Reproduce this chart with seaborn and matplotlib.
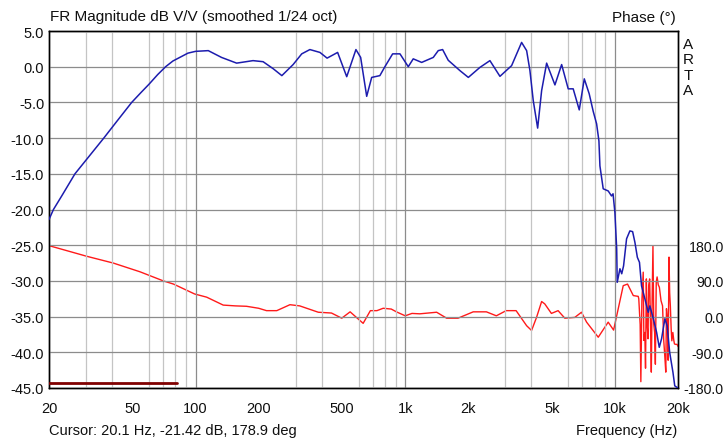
import numpy as np
import pandas as pd
import matplotlib
matplotlib.use("Agg")
import matplotlib.pyplot as plt
from matplotlib.ticker import FixedLocator, FixedFormatter, LogLocator, NullFormatter
import seaborn as sns

# magnitude response (Hz, dB)
mag_freq = [20, 21, 23, 26.6, 30, 36.5, 42, 49.6, 55, 60, 66, 72, 78,
            86, 92, 100, 115, 133, 157, 188, 210, 235, 258, 292,
            321, 351, 392, 424, 476, 526, 582, 613, 655, 692, 757, 800, 871, 944, 1034,
            1092, 1198, 1312, 1361, 1437, 1508, 1604, 1824, 2000, 2271, 2535, 2830, 3217,
            3590, 3794, 3934, 4080, 4282, 4473, 4726, 5177, 5573, 5990, 6326, 6762, 7146,
            7543, 7881, 8181, 8392, 8485, 8797, 9291, 9636, 9800, 10000, 10200, 10260,
            10570, 10780, 11000, 11370, 11790, 12150, 12460, 12800, 13100, 13400, 13900,
            14420, 14680, 15130, 15810, 16280, 16700, 17320, 17760, 18250, 18920, 19300, 20000]
mag_db = [-21.4, -20.0, -18.1, -15.0, -13.1, -10.0, -7.7, -5.0, -3.6, -2.45, -1.1, 0.0, 0.8,
          1.45, 1.9, 2.15, 2.25, 1.3, 0.5, 0.85, 0.7, -0.3, -1.25, 0.3,
          1.8, 2.4, 2.0, 1.2, 2.0, -1.4, 2.4, 1.3, -4.15, -1.5, -1.25, 0.0, 1.8, 1.8, 0.0,
          1.1, 0.6, 1.1, 1.3, 2.25, 2.4, 0.9, -0.55, -1.5, -0.1, 0.85, -1.35, 0.15,
          3.4, 2.25, -0.55, -4.75, -8.6, -3.35, 0.5, -2.55, 0.3, -3.1, -3.1, -6.05, -1.7,
          -3.8, -6.25, -8.0, -10.4, -13.9, -17.1, -17.4, -18.1, -17.8, -20.4, -25.5, -30.2,
          -28.3, -29.0, -27.9, -24.1, -23.0, -23.1, -24.6, -26.7, -27.4, -30.7, -32.5,
          -34.4, -33.5, -34.9, -37.2, -39.3, -38.1, -35.3, -36.3, -40.0, -42.8, -44.7, -45.0]

# phase response (Hz, degrees), starts with the wrap at 20 Hz
phase_freq = [20, 20, 30.3, 40.5, 54.3, 70.2, 78.5, 99, 113, 135.5, 155, 175, 200, 218, 244,
              282, 314, 385, 445, 498, 546, 630, 682, 733, 785, 858, 908, 1000, 1077, 1173,
              1412, 1576, 1786, 2110, 2439, 2720, 3030, 3380, 3794, 4005, 4230, 4473, 4630,
              4980, 5360, 5770, 6440, 6930, 7330, 8330, 9290, 9860, 10960, 11490, 12240,
              12920, 13000, 13200, 13300, 13450, 13650, 13750, 13890, 14000, 14130, 14250,
              14390, 14500, 14650, 14800, 14920, 15050, 15190, 15330, 15470, 15600, 15750,
              15900, 16100, 16300, 16600, 16880, 17100, 17300, 17490, 17620, 17770, 17950,
              18120, 18250, 18390, 18550, 18690, 18900, 19100, 19240, 19500, 19800, 20000]
phase_deg = [-180, 178.9, 152, 135, 113, 90, 82, 57, 49, 29, 27, 26, 21, 15, 15,
             30, 27, 11, 9, -4, 12, -17, 15, 15, 21, 19, 12, 2, 8, 7,
             11, -4, -4, 12, 12, 2, 15, 15, -23, -35, -2, 38, 32,
             8, 15, -4, -2, 11, -14, -52, -14, -34, 78, 82, 53,
             51, 45, -20, -164, 40, 112, -60, -40, -130, 95, -20,
             -56, 80, 95, -30, -140, 40, 178, -20, -40, -120, 87,
             100, 80, 74, 40, 27, -60, -100, -140, 20, -2, -110,
             150, 60, 27, -30, -61, -40, -60, -69, -70, -70, -75]

# time window marker at the bottom
window_freq = [20, 82]
window_db = [-44.3, -44.3]

x_ticks = [20, 50, 100, 200, 500, 1000, 2000, 5000, 10000, 20000]
x_labels = ["20", "50", "100", "200", "500", "1k", "2k", "5k", "10k", "20k"]
y_ticks = [5, 0, -5, -10, -15, -20, -25, -30, -35, -40, -45]
phase_ticks = [180, 90, 0, -90, -180]

sns.set_style("white")
plt.rcParams['font.family'] = ['Liberation Sans', 'DejaVu Sans']

txt = '#101010'
fig = plt.figure(figsize=(7.27, 4.39), dpi=100)
ax = fig.add_axes([49 / 727, 1 - 389 / 439, 629 / 727, 357 / 439])
ax.set_xscale('log')
ax.set_xlim(20, 20000)
ax.set_ylim(-45, 5)

# grid like ARTA: light minor verticals, darker decades and horizontals
ax.xaxis.set_minor_locator(LogLocator(base=10, subs=np.arange(1, 10)))
ax.xaxis.set_minor_formatter(NullFormatter())
ax.grid(which='minor', axis='x', color='#c4c4c4', lw=0.9)
ax.grid(which='major', axis='x', visible=False)
ax.grid(which='major', axis='y', color='#8c8c8c', lw=0.9)
for d in [100, 1000, 10000]:
    ax.axvline(d, color='#8c8c8c', lw=0.9, zorder=0.6)

ax.xaxis.set_major_locator(FixedLocator(x_ticks))
ax.xaxis.set_major_formatter(FixedFormatter(x_labels))
ax.set_yticks(y_ticks)
ax.set_yticklabels([f"{v:.1f}" for v in y_ticks])
ax.tick_params(which='both', length=0, labelsize=10.5, colors=txt)
ax.tick_params(axis='x', pad=9.5)
ax.tick_params(axis='y', pad=3.5)

mag = pd.DataFrame({'f': mag_freq, 'db': mag_db})
sns.lineplot(data=mag, x='f', y='db', ax=ax, color='#1c1cae', lw=1.1,
             estimator=None, sort=False, zorder=4)
win = pd.DataFrame({'f': window_freq, 'db': window_db})
sns.lineplot(data=win, x='f', y='db', ax=ax, color='#800000', lw=2.0,
             estimator=None, sort=False, zorder=4)
ax.set_xlabel('')
ax.set_ylabel('')

# phase on a right axis: -180..180 occupies the -45..-25 dB band
ax2 = ax.twinx()
ax2.set_ylim(-180, 720)
ph = pd.DataFrame({'f': phase_freq, 'deg': phase_deg})
sns.lineplot(data=ph, x='f', y='deg', ax=ax2, color='#ff1a1a', lw=1.0,
             estimator=None, sort=False, zorder=3)
ax2.set_yticks(phase_ticks)
ax2.set_yticklabels([f"{v:.1f}" for v in phase_ticks])
# right-aligned labels ending near the figure edge
ax2.tick_params(length=0, labelsize=10.2, colors=txt, pad=33)
for lab in ax2.get_yticklabels():
    lab.set_horizontalalignment('right')
ax2.set_ylabel('')
ax2.set_xlabel('')
ax2.grid(False)
ax.set_zorder(ax2.get_zorder() + 1)
ax.patch.set_visible(False)

for a in (ax, ax2):
    for s in a.spines.values():
        s.set_color('black')
        s.set_linewidth(1.0)

fig.text(50 / 727, 1 - 17 / 439, "FR Magnitude dB V/V (smoothed 1/24 oct)",
         fontsize=11, color=txt, ha='left', va='center')
fig.text(676 / 727, 1 - 18 / 439, "Phase (°)", fontsize=11, color=txt,
         ha='right', va='center')
fig.text(688 / 727, 1 - 68 / 439, "\n".join("ARTA"), fontsize=11, color=txt,
         ha='center', va='center', linespacing=1.12)
fig.text(49 / 727, 1 - 431 / 439, "Cursor: 20.1 Hz, -21.42 dB, 178.9 deg",
         fontsize=10.5, color=txt, ha='left', va='center')
fig.text(677 / 727, 1 - 431 / 439, "Frequency (Hz)", fontsize=10.5, color=txt,
         ha='right', va='center')

fig.savefig("out.png", dpi=100, facecolor='white')
